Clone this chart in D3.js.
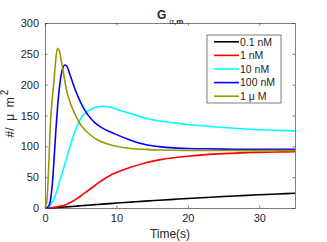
<!DOCTYPE html>
<meta charset="utf-8">
<script src="https://d3js.org/d3.v7.min.js"></script>
<style>
  body { margin: 0; background: #fff; }
  text { font-family: "Liberation Sans", Arial, sans-serif; fill: #262626; }
</style>
<div id="my_dataviz"></div>
<script>

// time points (s) shared by every series
var times = [0, 0.25, 0.5, 0.75, 1, 1.25, 1.5, 1.75, 2, 2.25, 2.5, 2.75, 3, 3.5, 4, 4.5, 5,
             6, 7, 8, 9, 10, 12, 14, 16, 18, 20, 22.5, 25, 27.5, 30, 32.5, 35];

// Galpha,m density (#/um^2) for each ligand concentration
var c01nM  = [0, 0, 0.1, 0.2, 0.3, 0.45, 0.6, 0.8, 1, 1.2, 1.4, 1.6, 1.8, 2.2, 2.7, 3.1, 3.6,
              4.5, 5.4, 6.3, 7.1, 8, 9.6, 11.2, 12.6, 14, 15.4, 17, 18.6, 20, 21.4, 22.7, 24];
var c1nM   = [0, 0, 0.1, 0.3, 0.6, 1, 1.4, 2, 2.6, 3.2, 3.8, 4.7, 5.7, 8.5, 11.8, 15.5, 19.5,
              28, 36.5, 45, 52, 57.5, 66, 73, 78, 81.5, 84, 86.5, 88.2, 89.4, 90.2, 90.8, 91.3];
var c10nM  = [0, 0.5, 2, 5, 9, 15, 22, 31, 42, 51, 60, 70, 80, 100, 118, 133, 145,
              157, 163, 165, 164, 160, 153, 146, 141, 138, 135.5, 133, 130.5, 128.5, 127, 126, 125];
var c100nM = [0, 0.5, 3, 12, 35, 76, 122, 163, 193, 215, 227, 232, 231, 216, 199, 184, 171,
              151, 138, 130, 124, 119, 110, 103, 99.5, 97.5, 96.5, 96, 95.5, 95.3, 95.1, 95, 95];
var c1uM   = [0, 10, 62, 135, 175, 205, 240, 259, 255, 240, 225, 208, 192, 172, 157, 145, 135,
              122, 113, 107, 103, 100, 96.5, 95, 94, 93.7, 93.5, 93.3, 93.2, 93.1, 93, 93, 93];

var seriesNames  = ["0.1 nM", "1 nM", "10 nM", "100 nM", "1 \u03bc M"];
var seriesValues = [c01nM, c1nM, c10nM, c100nM, c1uM];
var seriesColors = ["#000000", "#ff0000", "#00ffff", "#0000ff", "#999900"];

var xTicks = [0, 10, 20, 30];
var yTicks = [0, 50, 100, 150, 200, 250, 300];

// set the dimensions and margins of the graph
var margin = {top: 23, right: 32, bottom: 34, left: 45},
    width = 327 - margin.left - margin.right,
    height = 242 - margin.top - margin.bottom;

var svg = d3.select("#my_dataviz")
  .append("svg")
    .attr("width", 327)
    .attr("height", 242)
  .append("g")
    .attr("transform", "translate(" + margin.left + "," + margin.top + ")");

var x = d3.scaleLinear().domain([0, 35]).range([0, width]);
var y = d3.scaleLinear().domain([0, 300]).range([height, 0]);

// axes, matlab style: ticks pointing inside, box all round
function styleAxis(g) {
  g.select(".domain").attr("stroke", "#262626").attr("stroke-width", 0.6);
  g.selectAll(".tick line").attr("stroke", "#262626").attr("stroke-width", 0.6);
  g.selectAll(".tick text").style("font-size", "11px").attr("fill", "#262626")
    .style("font-family", "'Liberation Sans', Arial, sans-serif");
}

svg.append("g")
  .attr("transform", "translate(0," + height + ")")
  .call(d3.axisBottom(x).tickValues(xTicks).tickSizeInner(-2.5).tickSizeOuter(0).tickPadding(6))
  .call(styleAxis);
svg.append("g")
  .call(d3.axisTop(x).tickValues(xTicks).tickSizeInner(-2.5).tickSizeOuter(0).tickFormat(""))
  .call(styleAxis);
svg.append("g")
  .call(d3.axisLeft(y).tickValues(yTicks).tickSizeInner(-2.5).tickSizeOuter(0).tickPadding(6))
  .call(styleAxis);
svg.append("g")
  .attr("transform", "translate(" + width + ",0)")
  .call(d3.axisRight(y).tickValues(yTicks).tickSizeInner(-2.5).tickSizeOuter(0).tickFormat(""))
  .call(styleAxis);

// the lines
var line = d3.line()
  .x(function(d, i) { return x(times[i]); })
  .y(function(d) { return y(d); })
  .curve(d3.curveMonotoneX);

svg.append("g")
  .selectAll("path")
  .data(seriesValues)
  .enter().append("path")
    .attr("fill", "none")
    .attr("stroke", function(d, i) { return seriesColors[i]; })
    .attr("stroke-width", 1.6)
    .attr("d", line);

// legend
var legend = svg.append("g").attr("transform", "translate(" + (207 - margin.left) + "," + (35 - margin.top) + ")");
legend.append("rect")
  .attr("width", 74).attr("height", 68)
  .attr("fill", "#fff").attr("stroke", "#262626").attr("stroke-width", 0.6);
seriesNames.forEach(function(name, i) {
  var yy = 68 / 5 * (i + 0.5);
  legend.append("line")
    .attr("x1", 7).attr("x2", 32).attr("y1", yy).attr("y2", yy)
    .attr("stroke", seriesColors[i]).attr("stroke-width", 1.6);
  legend.append("text")
    .attr("x", 33).attr("y", yy + 3.8)
    .style("font-size", "10.5px")
    .text(name);
});

// title
var title = svg.append("text")
  .attr("x", 157 - margin.left).attr("y", 19 - margin.top)
  .style("font-size", "12px").style("font-weight", "bold");
title.append("tspan").text("G");
title.append("tspan").attr("dx", 3).attr("dy", 5).style("font-size", "8px").style("font-weight", "normal").text("\u03b1");
title.append("tspan").style("font-size", "8px").text(",m");

// x label
svg.append("text")
  .attr("x", width / 2).attr("y", 238 - margin.top)
  .attr("text-anchor", "middle")
  .style("font-size", "12px")
  .text("Time(s)");

// y label
var ylab = svg.append("text")
  .attr("transform", "translate(" + (13.5 - margin.left) + "," + (height / 2 - 2) + ") rotate(-90)")
  .attr("text-anchor", "middle")
  .style("font-size", "12px")
  .style("white-space", "pre")
  .attr("xml:space", "preserve");
ylab.append("tspan").text("#/  \u03bc  m");
ylab.append("tspan").attr("dx", 2).attr("dy", -6).style("font-size", "10px").text("2");

</script>
